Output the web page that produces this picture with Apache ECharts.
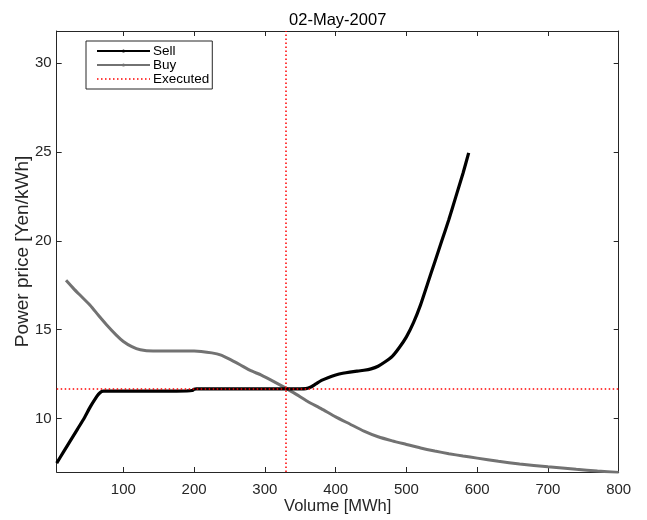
<!DOCTYPE html>
<html>
<head>
<meta charset="utf-8">
<script src="https://cdn.jsdelivr.net/npm/echarts@6/dist/echarts.min.js"></script>
<style>
  html, body { margin: 0; padding: 0; background: #fff; }
  #chart { width: 647px; height: 520px; }
</style>
</head>
<body>
<div id="chart"></div>
<script>
// Order book curves for the day
const titleText = '02-May-2007';

const sellVolume = [5.8, 15, 25, 35, 45, 53, 60, 65, 69, 72, 80, 100, 130, 160, 190, 197, 200, 203, 230, 260, 290, 320, 350, 358, 365, 372, 380, 390, 400, 410, 420, 430, 440, 450, 460, 470, 480, 490, 500, 510, 520, 530, 540, 550, 560, 570, 580, 588];
const sellPrice  = [7.5, 8.1, 8.75, 9.4, 10.05, 10.65, 11.1, 11.38, 11.52, 11.55, 11.55, 11.55, 11.55, 11.55, 11.56, 11.58, 11.65, 11.68, 11.68, 11.68, 11.68, 11.68, 11.68, 11.69, 11.78, 11.95, 12.15, 12.32, 12.45, 12.55, 12.62, 12.67, 12.72, 12.8, 12.95, 13.2, 13.5, 14.0, 14.6, 15.4, 16.4, 17.6, 18.8, 20.0, 21.2, 22.5, 23.8, 24.95];

const buyVolume = [19, 30, 40, 53, 65, 76.5, 90, 100, 112, 124, 142, 160, 180, 200, 210, 225, 237, 250, 265, 280, 295, 312, 329, 345, 360, 380, 400, 420, 440, 460, 480, 500, 520, 540, 560, 580, 600, 630, 660, 700, 740, 770, 800];
const buyPrice  = [17.78, 17.3, 16.9, 16.38, 15.8, 15.27, 14.7, 14.34, 14.05, 13.87, 13.8, 13.8, 13.8, 13.8, 13.78, 13.7, 13.59, 13.35, 13.03, 12.7, 12.45, 12.1, 11.73, 11.35, 10.98, 10.55, 10.1, 9.7, 9.3, 8.98, 8.75, 8.55, 8.35, 8.18, 8.03, 7.9, 7.78, 7.6, 7.45, 7.29, 7.15, 7.05, 6.97];

const executedVolume = 329;
const executedPrice = 11.7;

const xTicks = [100, 200, 300, 400, 500, 600, 700, 800];
const yTicks = [10, 15, 20, 25, 30];

const xMin = 5.8, xMax = 800;
const yMin = 7, yMax = 31.8;

const pair = (xs, ys) => xs.map((x, i) => [x, ys[i]]);

const axisColor = '#262626';
const font = 'Liberation Sans, Arial, Helvetica, sans-serif';
const dotted = [1.5, 2.5];

const gridL = 56.7, gridR = 28.3, gridT = 31, gridB = 45.5;

function xAx(pos, labels) {
  return {
    type: 'value', position: pos, min: xMin, max: xMax,
    axisLine: { show: true, onZero: false, lineStyle: { color: axisColor, width: 1 } },
    axisTick: { show: true, inside: true, length: 5, customValues: xTicks, lineStyle: { color: axisColor } },
    axisLabel: { show: labels, customValues: xTicks, color: axisColor, fontSize: 15, fontFamily: font, margin: 10 },
    splitLine: { show: false },
    name: labels ? 'Volume [MWh]' : '', nameLocation: 'middle', nameGap: 26, nameMoveOverlap: false,
    nameTextStyle: { color: axisColor, fontSize: 16.5, fontFamily: font }
  };
}
function yAx(pos, labels) {
  return {
    type: 'value', position: pos, min: yMin, max: yMax,
    axisLine: { show: true, onZero: false, lineStyle: { color: axisColor, width: 1 } },
    axisTick: { show: true, inside: true, length: 5, customValues: yTicks, lineStyle: { color: axisColor } },
    axisLabel: { show: labels, customValues: yTicks, color: axisColor, fontSize: 15, fontFamily: font, margin: 5 },
    splitLine: { show: false },
    name: labels ? 'Power price [Yen/kWh]' : '', nameLocation: 'middle', nameGap: 24, nameMoveOverlap: false,
    nameTextStyle: { color: axisColor, fontSize: 19, fontFamily: font }
  };
}

const chart = echarts.init(document.getElementById('chart'), null, { renderer: 'canvas' });
chart.setOption({
  backgroundColor: '#fff',
  animation: false,
  title: {
    text: titleText, left: gridL + (647 - gridL - gridR) / 2, textAlign: 'center', top: 12, padding: 0,
    textStyle: { color: '#000', fontSize: 16.5, fontWeight: 'normal', fontFamily: font }
  },
  grid: { left: gridL, right: gridR, top: gridT, bottom: gridB },
  xAxis: [xAx('bottom', true), xAx('top', false)],
  yAxis: [yAx('left', true), yAx('right', false)],
  legend: {
    orient: 'vertical', left: 86, top: 41,
    backgroundColor: '#fff', borderColor: axisColor, borderWidth: 1,
    padding: [3, 3, 3, 10], itemGap: 0, itemWidth: 53, itemHeight: 4,
    textStyle: { color: '#000', fontSize: 13.5, fontFamily: font, padding: [0, 0, 0, -2] },
    data: [
      { name: 'Sell', lineStyle: { width: 2 } },
      { name: 'Buy', lineStyle: { width: 2 } },
      { name: 'Executed', lineStyle: { width: 1.5, type: dotted }, itemStyle: { color: 'rgba(0,0,0,0)', opacity: 0 } }
    ]
  },
  series: [
    {
      name: 'Sell', type: 'line', xAxisIndex: 0, yAxisIndex: 0,
      data: pair(sellVolume, sellPrice),
      smooth: 0.2,
      symbol: 'circle', symbolSize: 4, showSymbol: false,
      itemStyle: { color: '#000' },
      lineStyle: { color: '#000', width: 3.2 },
      z: 3
    },
    {
      name: 'Buy', type: 'line', xAxisIndex: 0, yAxisIndex: 0,
      data: pair(buyVolume, buyPrice),
      smooth: 0.2,
      symbol: 'circle', symbolSize: 4, showSymbol: false,
      itemStyle: { color: '#727272' },
      lineStyle: { color: '#727272', width: 3 },
      z: 2
    },
    {
      name: 'Executed', type: 'line', xAxisIndex: 0, yAxisIndex: 0,
      data: [[executedVolume, executedPrice]],
      symbol: 'none', showSymbol: false,
      itemStyle: { color: '#ff0000' },
      lineStyle: { color: '#ff0000', width: 1.5, type: dotted },
      markLine: {
        silent: true, symbol: 'none', label: { show: false },
        lineStyle: { color: '#ff0000', width: 1.5, type: dotted },
        data: [{ xAxis: executedVolume }, { yAxis: executedPrice }]
      },
      z: 4
    }
  ]
});
</script>
</body>
</html>
